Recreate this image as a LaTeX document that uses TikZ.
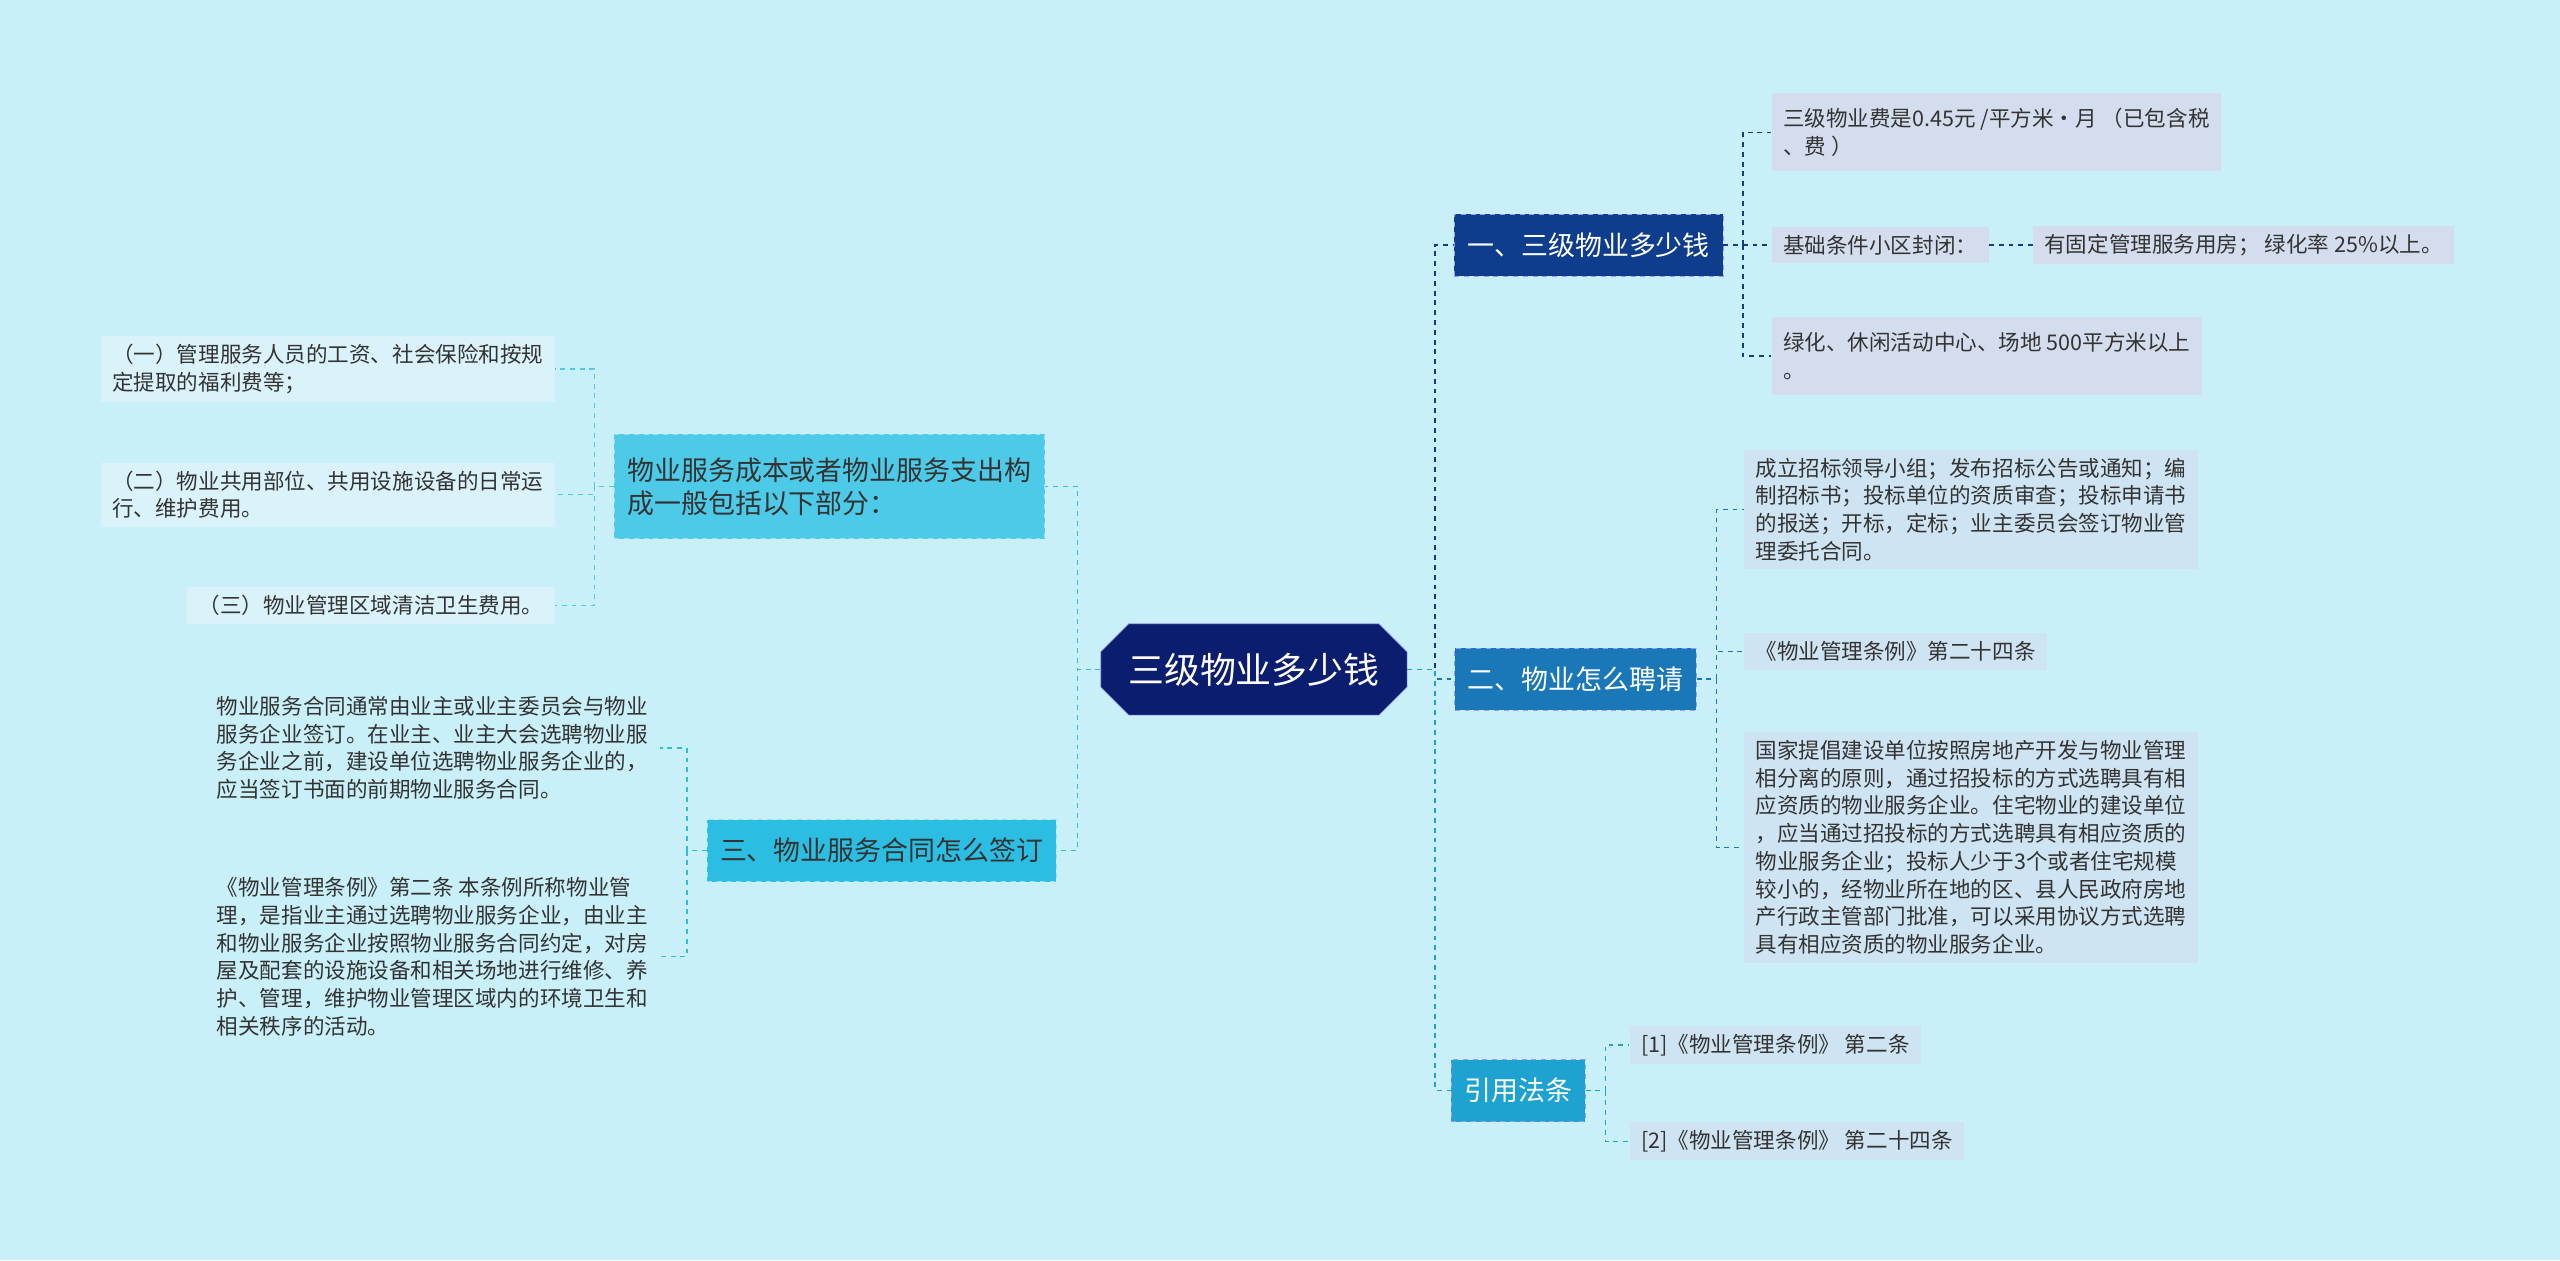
\documentclass[tikz,border=0pt]{standalone}
\usepackage{fontspec}
\setmainfont{Noto Sans CJK SC}
\usetikzlibrary{positioning,shapes.misc}
\definecolor{bgc}{HTML}{C9EFF8}
\definecolor{rootc}{HTML}{0B1D6E}
\definecolor{b1c}{HTML}{0D3D8C}
\definecolor{b2c}{HTML}{1A78B8}
\definecolor{b3c}{HTML}{1EA2D2}
\definecolor{lac}{HTML}{4DCAE8}
\definecolor{lbc}{HTML}{2BBEE2}
\definecolor{leafr}{HTML}{D3DDEE}
\definecolor{leafl}{HTML}{DAF3FA}
\definecolor{txt}{HTML}{333333}
\tikzset{
    branch/.style={
        rectangle,
        draw=white!60!blue,
        dashed,
        text=white,
        inner xsep=8pt,
        minimum height=38pt,
        font=\fontsize{16.5}{20}\selectfont,
    },
    leaf/.style={
        rectangle,
        fill=leafr,
        text=txt,
        align=left,
        inner xsep=7pt,
        inner ysep=5pt,
        font=\fontsize{13.2}{17}\selectfont,
    },
    conn/.style={
        draw=#1,
        dashed,
        line width=0.9pt,
    },
    conn/.default=b2c,
}
\begin{document}
\begin{tikzpicture}[x=1pt,y=-1pt]
    \useasboundingbox[fill=bgc] (0,0) rectangle (1568,772);
    % root
    \node[chamfered rectangle,chamfered rectangle xsep=14pt,fill=rootc,draw=white!70!blue,
        text=white,minimum width=180pt,minimum height=56pt,
        font=\fontsize{22}{26}\selectfont](root) at (768,410){三级物业多少钱};
    % right branches
    \node[branch,fill=b1c](b1) at (973,150){一、三级物业多少钱};
    \node[branch,fill=b2c](b2) at (965,416){二、物业怎么聘请};
    \node[branch,fill=b3c](b3) at (930,668){引用法条};
    % left branches
    \node[branch,fill=lac,text=txt,align=left,minimum height=64pt,draw=white!60!cyan](la) at (508,298){物业服务成本或者物业服务支出构\\成一般包括以下部分：};
    \node[branch,fill=lbc,text=txt,draw=white!60!cyan](lb) at (540,521){三、物业服务合同怎么签订};
    % leaves of b1
    \node[leaf,anchor=west,minimum height=48pt](r11) at (1085,81){三级物业费是0.45元 /平方米·月 （已包含税\\、费 ）};
    \node[leaf,anchor=west](r12) at (1085,150){基础条件小区封闭：};
    \node[leaf,anchor=west](r13) at (1245,150){有固定管理服务用房； 绿化率 25\%以上。};
    \node[leaf,anchor=west,minimum height=48pt](r14) at (1085,218){绿化、休闲活动中心、场地 500平方米以上\\。};
    % leaves of b2
    \node[leaf,anchor=west,fill=leafr!60!bgc](r21) at (1068,312){成立招标领导小组；发布招标公告或通知；编\\制招标书；投标单位的资质审查；投标申请书\\的报送；开标，定标；业主委员会签订物业管\\理委托合同。};
    \node[leaf,anchor=west,fill=leafr!60!bgc](r22) at (1068,399){《物业管理条例》第二十四条};
    \node[leaf,anchor=west,fill=leafr!60!bgc](r23) at (1068,519){国家提倡建设单位按照房地产开发与物业管理\\相分离的原则，通过招投标的方式选聘具有相\\应资质的物业服务企业。住宅物业的建设单位\\，应当通过招投标的方式选聘具有相应资质的\\物业服务企业；投标人少于3个或者住宅规模\\较小的，经物业所在地的区、县人民政府房地\\产行政主管部门批准，可以采用协议方式选聘\\具有相应资质的物业服务企业。};
    % leaves of b3
    \node[leaf,anchor=west,fill=leafr!60!bgc](r31) at (998,640){[1]《物业管理条例》 第二条};
    \node[leaf,anchor=west,fill=leafr!60!bgc](r32) at (998,699){[2]《物业管理条例》 第二十四条};
    % leaves of la
    \node[leaf,anchor=east,fill=leafl](l11) at (340,226){（一）管理服务人员的工资、社会保险和按规\\定提取的福利费等；};
    \node[leaf,anchor=east,fill=leafl](l12) at (340,303){（二）物业共用部位、共用设施设备的日常运\\行、维护费用。};
    \node[leaf,anchor=east,fill=leafl](l13) at (340,371){（三）物业管理区域清洁卫生费用。};
    % leaves of lb
    \node[leaf,anchor=east,fill=none](l21) at (404,458){物业服务合同通常由业主或业主委员会与物业\\服务企业签订。在业主、业主大会选聘物业服\\务企业之前，建设单位选聘物业服务企业的，\\应当签订书面的前期物业服务合同。};
    \node[leaf,anchor=east,fill=none](l22) at (404,586){《物业管理条例》第二条 本条例所称物业管\\理，是指业主通过选聘物业服务企业，由业主\\和物业服务企业按照物业服务合同约定，对房\\屋及配套的设施设备和相关场地进行维修、养\\护、管理，维护物业管理区域内的环境卫生和\\相关秩序的活动。};
    % connectors
    \foreach \b/\c in {b1/b1c,b2/b2c,b3/b3c}
        \draw[conn=\c] (root.east) -- ++(17,0) |- (\b.west);
    \foreach \b in {la,lb}
        \draw[conn=lbc] (root.west) -- ++(-14,0) |- (\b.east);
    \foreach \l in {r11,r12,r14}
        \draw[conn=b1c] (b1.east) -- ++(12,0) |- (\l.west);
    \draw[conn=b1c] (r12.east) -- (r13.west);
    \foreach \l in {r21,r22,r23}
        \draw[conn=b2c] (b2.east) -- ++(12,0) |- (\l.west);
    \foreach \l in {r31,r32}
        \draw[conn=b3c] (b3.east) -- ++(12,0) |- (\l.west);
    \foreach \l in {l11,l12,l13}
        \draw[conn=lac] (la.west) -- ++(-12,0) |- (\l.east);
    \foreach \l in {l21,l22}
        \draw[conn=lbc] (lb.west) -- ++(-12,0) |- (\l.east);
\end{tikzpicture}
\end{document}
